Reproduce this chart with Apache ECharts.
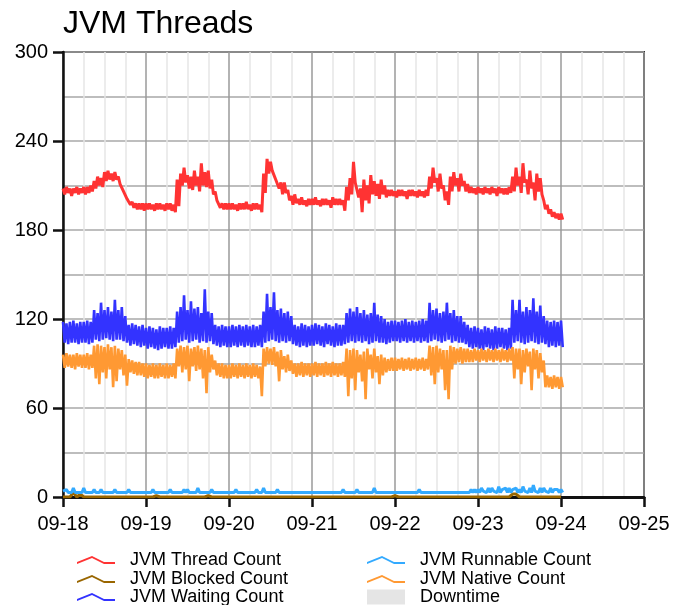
<!DOCTYPE html>
<html>
<head>
<meta charset="utf-8">
<script src="https://cdn.jsdelivr.net/npm/echarts@6/dist/echarts.min.js"></script>
<style>html,body{margin:0;padding:0;background:#fff;}#c{width:675px;height:605px;}</style>
</head>
<body>
<div id="c"></div>
<script>
// Hourly band (high / low within each hour) from 09-18 00:00 to 09-24 00:00
var startDate = [2024, 8, 18];
var xTickLabels = ['09-18','09-19','09-20','09-21','09-22','09-23','09-24','09-25'];
var yTicks = [0, 60, 120, 180, 240, 300];
var seriesNames = ['JVM Thread Count','JVM Blocked Count','JVM Waiting Count','JVM Runnable Count','JVM Native Count','Downtime'];

var threadHigh = [
208,209,208,208,209,208,209,209,210,213,216,215,219,220,218,219,216,212,207,202,199,198,198,198,
198,198,197,198,198,197,198,198,197,214,218,222,217,216,220,216,225,219,220,214,206,200,198,198,
198,198,197,198,198,199,197,198,198,197,218,228,226,220,215,212,212,207,203,204,201,202,200,201,
201,202,200,201,201,200,202,201,201,200,209,215,226,212,208,214,210,217,213,211,214,210,207,207,
206,207,207,206,207,207,206,207,206,207,216,222,215,218,210,206,216,219,215,218,213,211,209,208,
209,208,209,208,209,208,209,208,208,209,216,222,216,225,214,220,212,218,215,200,197,194,192,191,
191];
var threadLow = [
204,205,203,205,204,205,204,205,206,208,210,209,213,214,213,214,211,206,201,197,195,194,194,193,
194,194,193,194,194,193,194,193,192,196,210,212,208,207,210,206,210,209,208,204,200,195,194,194,
194,194,193,194,194,194,193,194,194,192,205,218,220,214,208,204,205,200,197,198,197,197,196,197,
197,197,196,197,197,195,197,197,197,193,200,204,212,202,192,200,198,204,203,201,204,202,203,203,
202,203,203,201,203,203,202,203,202,203,208,212,206,208,200,197,206,210,206,210,206,205,205,204,
205,204,205,204,205,203,205,204,204,205,206,210,205,212,204,208,200,206,204,194,191,189,188,187,
187];

var blockedCount = [
0,0,0,3,0,2,0,0,0,0,0,0,0,0,0,0,0,0,0,0,0,0,0,0,
0,0,0,1,0,0,0,0,0,0,0,0,0,0,0,0,0,0,1,0,0,0,0,0,
0,0,0,0,0,0,0,0,0,0,0,0,0,0,0,0,0,0,0,0,0,0,0,0,
0,0,0,0,0,0,0,0,0,0,0,0,0,0,0,0,0,0,0,0,0,0,0,0,
1,0,0,0,0,0,0,0,0,0,0,0,0,0,0,0,0,0,0,0,0,0,0,0,
0,0,0,0,0,0,0,0,0,0,2,2,0,0,0,0,0,0,0,0,0,0,0,0,
0];

var waitingHigh = [
118,117,118,119,117,118,118,119,118,126,124,131,126,128,125,133,126,128,122,116,117,116,115,116,
114,115,114,113,115,114,114,115,114,125,128,136,126,132,127,128,124,140,125,124,116,115,116,115,
115,116,115,116,115,116,115,116,115,116,125,137,128,138,126,127,124,125,122,116,115,117,116,115,
116,117,116,115,117,116,115,117,116,116,124,127,125,128,124,126,123,124,131,123,122,120,118,119,
119,118,119,120,118,119,118,119,120,119,131,126,127,124,125,131,124,126,122,122,118,116,114,115,
114,113,115,114,113,115,114,114,113,114,133,126,133,125,128,126,134,125,129,122,119,118,119,118,
119];
var waitingLow = [
104,103,104,104,103,104,104,103,104,106,105,106,107,106,105,106,106,105,104,102,103,102,101,102,
100,101,100,99,100,101,100,100,101,104,105,106,104,105,106,104,105,104,105,103,102,101,102,101,
101,102,101,102,101,102,101,101,102,101,104,105,106,105,104,105,104,105,103,102,101,102,101,102,
102,103,102,101,103,102,101,102,102,103,104,105,104,105,104,105,103,104,105,104,104,103,104,105,
105,104,105,104,105,104,105,104,105,104,105,106,105,104,105,106,104,105,104,104,103,101,100,101,
100,99,101,100,99,100,101,100,99,100,104,105,104,103,104,105,104,103,104,103,101,102,101,102,
101];

var runnableHigh = [
4,5,4,6,4,4,6,4,4,5,4,5,4,4,4,5,4,4,4,5,4,4,4,4,
4,4,5,4,4,4,4,5,4,4,4,5,5,4,4,6,4,4,4,5,4,4,4,4,
4,4,5,4,4,4,4,4,5,4,6,4,4,4,5,4,4,4,4,4,4,4,4,4,
4,4,4,4,4,4,4,4,4,5,4,4,4,5,4,4,4,4,6,4,4,4,4,4,
4,4,4,4,4,4,4,5,4,4,4,4,4,4,4,4,4,4,4,4,4,4,5,5,
5,6,5,6,6,5,7,5,6,6,5,6,5,7,5,6,8,5,6,6,5,6,5,5,
5];
var runnableLow = [
3,3,3,3,3,3,3,3,3,3,3,3,3,3,3,3,3,3,3,3,3,3,3,3,
3,3,3,3,3,3,3,3,3,3,3,3,3,3,3,3,3,3,3,3,3,3,3,3,
3,3,3,3,3,3,3,3,3,3,3,3,3,3,3,3,3,3,3,3,3,3,3,3,
3,3,3,3,3,3,3,3,3,3,3,3,3,3,3,3,3,3,3,3,3,3,3,3,
3,3,3,3,3,3,3,3,3,3,3,3,3,3,3,3,3,3,3,3,3,3,3,3,
3,4,3,3,4,3,3,4,3,3,4,3,3,4,3,3,4,3,3,4,3,3,4,3,
3];

var nativeHigh = [
96,97,96,96,97,96,96,97,96,102,103,102,101,103,101,102,100,99,96,93,92,91,91,90,
90,89,90,89,90,89,90,89,90,100,102,101,102,100,101,102,100,99,101,96,92,90,90,89,
89,90,89,90,89,90,89,90,89,88,100,101,100,101,98,99,95,96,92,90,90,91,90,90,
90,91,90,90,91,90,91,90,90,91,100,99,100,99,96,98,100,96,100,95,96,94,93,94,
94,93,94,93,94,93,94,93,94,93,102,101,102,100,99,99,102,101,100,101,100,100,99,100,
99,100,99,100,99,100,99,100,99,100,101,100,100,99,100,98,100,99,97,92,82,81,82,81,
81];
var nativeLow = [
87,88,87,86,88,87,87,86,87,80,76,84,80,86,74,78,86,82,75,84,83,82,82,81,
80,81,80,80,81,80,80,81,80,88,84,86,78,88,85,86,80,70,84,86,82,81,80,80,
80,81,80,81,80,81,80,81,80,68,88,90,89,88,78,86,84,85,83,81,82,81,82,81,
82,81,82,81,82,81,82,81,82,81,68,80,72,84,78,66,86,80,84,76,82,84,85,85,
85,86,85,86,85,86,85,86,85,86,82,76,84,86,72,66,86,90,91,90,91,91,91,92,
91,92,91,92,91,92,91,92,91,92,80,86,76,84,88,72,86,80,84,74,74,73,74,73,
74];

var colors = ['#ff3333','#996600','#3333ff','#33aaff','#ff9933','#e5e5e5'];

var t0 = new Date(startDate[0], startDate[1], startDate[2]).getTime();
var HOUR = 3600000, DAY = 86400000;
// each hour: its high at the start of the hour, its low at half past
function bandPairs(hi, lo){
  var out = [];
  for (var i = 0; i < hi.length; i++) {
    out.push([t0 + i*HOUR, hi[i]]);
    out.push([t0 + i*HOUR + HOUR/2, lo[i]]);
  }
  return out;
}
function hourPairs(arr){ return arr.map(function(v,i){ return [t0 + i*HOUR, v]; }); }

var FONT = 'Liberation Sans, Arial, Helvetica, sans-serif';
var lineIcon = 'path://M0,6 L15,0 L27,6 L38,6 L38,8 L27,8 L15,2 L0,8 Z';

function lineSeries(name, data, color, w){
  return {name:name, type:'line', data:data, showSymbol:false, symbol:'none',
    lineStyle:{color:color, width:w}, itemStyle:{color:color}, color:color, animation:false, silent:true};
}
function legendItem(name, left, centerY, icon, h, color){
  var d = color ? {name:name, itemStyle:{color:color}} : name;
  return {orient:'vertical', left:left, top:centerY - 10, padding:0, itemWidth:38, itemHeight:h, icon:icon,
    selectedMode:false, textStyle:{fontFamily:FONT, fontSize:18, lineHeight:20, color:'#000', padding:[0,0,0,10]},
    data:[d]};
}

var chart = echarts.init(document.getElementById('c'), null, {renderer:'canvas'});
chart.setOption({
  animation:false,
  title:{text:'JVM Threads', left:63, top:8, padding:0, textStyle:{fontFamily:FONT, fontSize:32, fontWeight:'normal', color:'#000'}},
  grid:{left:63, right:31, top:52, bottom:108, show:true, borderColor:'#333', borderWidth:2, backgroundColor:'transparent'},
  legend:[
    legendItem(seriesNames[0], 77, 560, lineIcon, 8),
    legendItem(seriesNames[1], 77, 579, lineIcon, 8),
    legendItem(seriesNames[2], 77, 597, lineIcon, 8),
    legendItem(seriesNames[3], 367, 560, lineIcon, 8),
    legendItem(seriesNames[4], 367, 579, lineIcon, 8),
    legendItem(seriesNames[5], 367, 597, 'rect', 15, colors[5])
  ],
  xAxis:{
    type:'time', min:t0, max:t0 + 7*DAY, interval:DAY, minInterval:DAY, maxInterval:DAY,
    axisLine:{show:true, lineStyle:{color:'#111', width:3}},
    axisTick:{show:true, length:10, inside:false, lineStyle:{color:'#111', width:2.5}},
    axisLabel:{fontFamily:FONT, fontSize:20, color:'#000', margin:17, showMinLabel:true, showMaxLabel:true,
      formatter:function(v){ var i = Math.round((v - t0)/DAY); return xTickLabels[i] !== undefined ? xTickLabels[i] : ''; }},
    splitLine:{show:true, lineStyle:{color:'#9a9a9a', width:1.5}},
    minorTick:{show:false, splitNumber:4},
    minorSplitLine:{show:true, lineStyle:{color:'#e6e6e6', width:1.5}}
  },
  yAxis:{
    type:'value', min:yTicks[0], max:yTicks[yTicks.length-1], interval:60,
    axisLine:{show:true, lineStyle:{color:'#111', width:2.5}},
    axisTick:{show:true, length:10, inside:false, lineStyle:{color:'#111', width:2.5}},
    axisLabel:{fontFamily:FONT, fontSize:20, color:'#000', margin:15},
    splitLine:{show:true, lineStyle:{color:'#a8a8a8', width:1.5}},
    minorTick:{show:false, splitNumber:2},
    minorSplitLine:{show:true, lineStyle:{color:'#a8a8a8', width:1.5}}
  },
  series:[
    lineSeries(seriesNames[0], bandPairs(threadHigh, threadLow), colors[0], 3),
    lineSeries(seriesNames[1], hourPairs(blockedCount), colors[1], 3),
    lineSeries(seriesNames[2], bandPairs(waitingHigh, waitingLow), colors[2], 2.6),
    lineSeries(seriesNames[3], bandPairs(runnableHigh, runnableLow), colors[3], 3),
    lineSeries(seriesNames[4], bandPairs(nativeHigh, nativeLow), colors[4], 2.6),
    {name:seriesNames[5], type:'line', data:[], color:colors[5], itemStyle:{color:colors[5]}, lineStyle:{color:colors[5]}}
  ]
});
</script>
</body>
</html>
